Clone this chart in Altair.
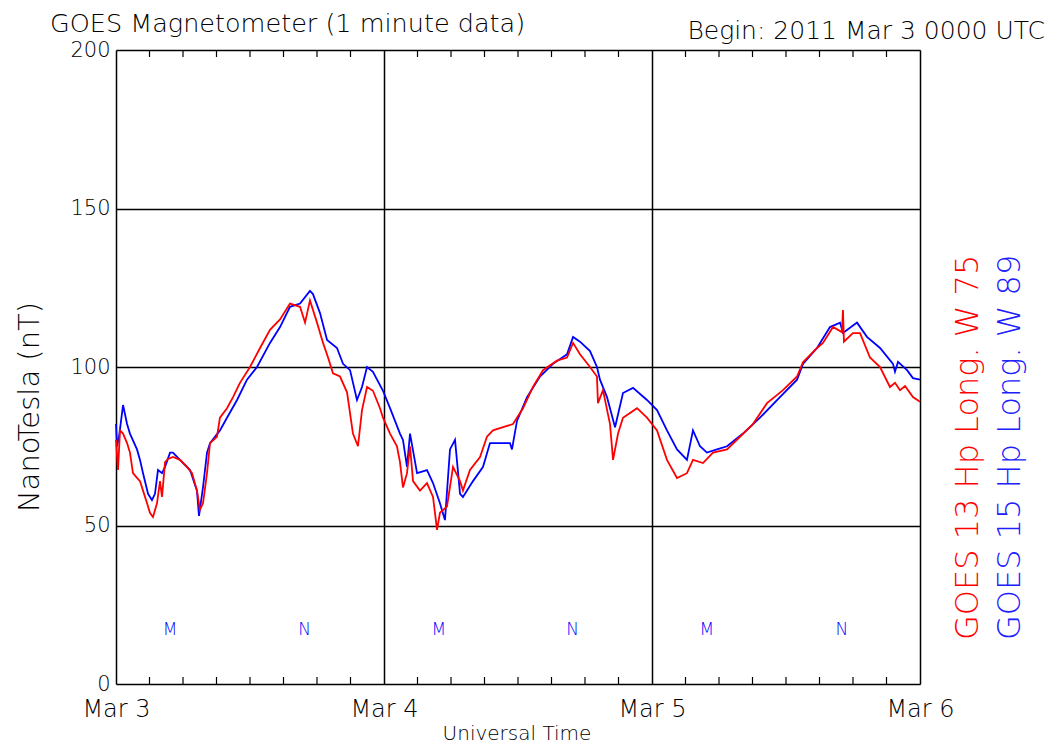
import altair as alt
import pandas as pd

# ---- data (hours since 2011-03-03 00:00 UT, nT) ----
g13_hours = [0.00, 0.18, 0.36, 0.63, 0.99, 1.25, 1.52, 1.88, 2.15, 2.42, 2.78, 3.04, 3.31, 3.67, 3.94,
             4.12, 4.39, 4.66, 5.10, 5.73, 6.36, 6.81, 7.25, 7.52, 7.79, 8.15, 8.42, 9.04, 9.31, 9.94,
             10.48, 11.10, 12.00, 12.90, 13.79, 14.69, 15.58, 16.48, 16.93, 17.37, 18.00, 18.54, 18.99,
             19.43, 20.06, 20.69, 21.22, 21.67, 22.03, 22.48, 23.01, 23.64, 23.91, 24.54, 25.16, 25.43,
             25.70, 26.06, 26.33, 26.60, 27.22, 27.85, 28.39, 28.75, 29.01, 29.64, 30.18, 30.81, 31.07,
             31.70, 32.60, 33.22, 33.76, 34.66, 35.55, 36.45, 37.34, 38.24, 39.49, 40.39, 40.93, 41.55,
             42.45, 43.07, 43.16, 43.61, 44.24, 44.51, 44.96, 45.40, 46.66, 47.55, 48.45, 49.34, 50.24,
             51.13, 51.67, 52.57, 53.46, 54.72, 55.88, 57.04, 58.30, 59.73, 60.99, 61.52, 62.78, 63.31,
             64.21, 65.01, 65.10, 65.19, 65.99, 66.63, 67.52, 68.42, 69.31, 69.76, 70.21, 70.66, 71.37,
             72.00]
g13_nt = [77, 67.5, 80, 79, 76, 73, 66.5, 65, 64, 61, 57, 54, 52.7, 57, 64,
          59, 70, 71, 71.6, 70.7, 68.5, 66.5, 61, 55, 57, 66.5, 76, 78, 84, 87,
          90.5, 95, 100, 106, 111.7, 115, 120, 119, 114, 121, 114, 107.6, 103,
          98, 97, 92, 79, 75, 86.4, 93.7, 92.5, 87, 84, 79, 75, 70,
          62, 66.5, 75, 64, 61, 63.4, 59, 48.6, 54, 56, 68.5, 64, 61,
          67.5, 71.6, 78, 80, 81, 82, 87, 93.7, 99, 102, 103, 107.6, 104,
          100, 97, 88.6, 92.7, 82, 70.7, 79, 84, 87, 84, 80, 70.7, 65,
          66.5, 70.7, 69.7, 73, 74, 78, 82, 88.6, 92.7, 97, 101.5, 106, 107.6,
          112.6, 111, 118, 108, 110.7, 110.7, 103, 100, 93.7, 95, 92.7, 94, 90.5,
          89]

g15_hours = [0.00, 0.09, 0.27, 0.63, 0.99, 1.25, 1.88, 2.15, 2.42, 2.87, 3.22, 3.49, 3.76, 4.12, 4.39,
             4.84, 5.10, 5.73, 6.63, 7.25, 7.43, 7.79, 8.15, 8.42, 9.31, 9.94, 10.84, 11.73, 12.63,
             13.79, 14.69, 15.58, 16.48, 17.37, 17.64, 18.27, 18.90, 19.79, 20.33, 20.96, 21.58, 22.03,
             22.48, 23.01, 23.91, 24.54, 25.43, 25.70, 26.06, 26.33, 26.96, 27.85, 28.39, 29.01, 29.46,
             29.91, 30.36, 30.81, 31.07, 31.97, 32.87, 33.49, 34.39, 35.28, 35.46, 35.91, 36.81, 37.97,
             39.13, 40.39, 40.93, 41.55, 42.45, 43.07, 43.34, 43.97, 44.69, 45.40, 46.30, 47.55, 48.45,
             49.34, 50.24, 51.13, 51.67, 52.30, 52.92, 53.82, 54.72, 56.15, 57.67, 59.46, 60.99, 61.52,
             62.78, 63.94, 64.84, 65.10, 66.36, 67.25, 68.42, 69.58, 69.76, 70.03, 70.84, 71.37, 72.00]
g15_nt = [82, 75, 78, 88, 82, 79, 74, 70.7, 66.5, 60, 58, 60, 67.5, 66.5, 68.5,
          73, 73, 70.7, 67.5, 61, 53, 62, 73, 76, 80, 84, 89.6, 96, 100,
          107.6, 112.6, 119, 120, 124, 123, 117, 108.5, 106, 101, 99, 89.6, 93.7,
          100, 98.5, 92.5, 87, 79, 77, 68.5, 79, 66.5, 67.5, 63.4, 57, 51.7,
          74, 77, 60, 59, 64, 68.5, 76, 76, 76, 74, 83, 90.5, 97,
          101, 104, 109.5, 108, 105, 100, 96, 90.5, 81, 91.8, 93.4, 89.6, 86.4,
          80, 74, 70.7, 80, 75, 73, 74, 75, 79, 84, 90.5, 96, 101,
          106, 112.6, 114, 110.7, 114, 109.5, 106, 101, 98.5, 101.6, 99, 96.5, 96]

mn_hours = [4.84, 16.9, 28.9, 40.9, 52.9, 65.0]
mn_labels = ["M", "N", "M", "N", "M", "N"]
mn_level = 17

day_ticks = [0, 24, 48, 72]
minor_ticks = [3, 6, 9, 12, 15, 18, 21, 27, 30, 33, 36, 39, 42, 45, 51, 54, 57, 60, 63, 66, 69]
y_ticks = [0, 50, 100, 150, 200]

FONT = "DejaVu Sans"
FW = 300
W, H = 804, 634

df = pd.concat([
    pd.DataFrame({"hour": g15_hours, "nt": g15_nt, "sat": "GOES 15"}),
    pd.DataFrame({"hour": g13_hours, "nt": g13_nt, "sat": "GOES 13"}),
], ignore_index=True)
df["order"] = range(len(df))

xscale = alt.Scale(domain=[0, 72], nice=False, zero=False)
yscale = alt.Scale(domain=[0, 200], nice=False, zero=False)

base = alt.Chart(df)

lines = base.mark_line(strokeWidth=1.8, interpolate="linear").encode(
    x=alt.X("hour:Q", scale=xscale,
            axis=alt.Axis(values=day_ticks, labelExpr="'Mar ' + (3 + datum.value / 24)",
                          title=None, ticks=False, domain=False, grid=True,
                          gridColor="black", gridWidth=1.5, gridOpacity=1,
                          labelFont=FONT, labelFontSize=24, labelFontWeight=FW, labelColor="black",
                          labelPadding=13, labelFlush=False)),
    y=alt.Y("nt:Q", scale=yscale,
            axis=alt.Axis(values=y_ticks, title=None, ticks=False, domain=False, grid=True,
                          gridColor="black", gridWidth=1.5, gridOpacity=1,
                          labelFont=FONT, labelFontSize=21, labelFontWeight=FW, labelColor="black",
                          labelPadding=6, labelFlush=False)),
    color=alt.Color("sat:N", scale=alt.Scale(domain=["GOES 13", "GOES 15"],
                                             range=["#ff0000", "#0000ff"]), legend=None),
    detail="sat:N",
    order="order:Q",
)

ticks_df = pd.DataFrame({"hour": minor_ticks})
bottom_ticks = alt.Chart(ticks_df).mark_rule(color="black", strokeWidth=1.2).encode(
    x=alt.X("hour:Q", scale=xscale), y=alt.value(H), y2=alt.value(H - 7))
top_ticks = alt.Chart(ticks_df).mark_rule(color="black", strokeWidth=1.2).encode(
    x=alt.X("hour:Q", scale=xscale), y=alt.value(0), y2=alt.value(7))

mn_df = pd.DataFrame({"hour": mn_hours, "lab": mn_labels, "lvl": [mn_level] * len(mn_hours)})
mn = alt.Chart(mn_df).mark_text(font=FONT, fontSize=17, fontWeight=FW, color="#0000ff").encode(
    x=alt.X("hour:Q", scale=xscale), y=alt.Y("lvl:Q", scale=yscale), text="lab:N")

def label(txt, x, y, size, color="black", align="left", angle=0, baseline="alphabetic"):
    return alt.Chart(pd.DataFrame({"t": [txt]})).mark_text(
        font=FONT, fontSize=size, fontWeight=FW, color=color, align=align, angle=angle,
        baseline=baseline
    ).encode(x=alt.value(x), y=alt.value(y), text="t:N")

title_l = label("GOES Magnetometer (1 minute data)", -66, -18, 25.5)
title_r = label("Begin:  2011 Mar 3 0000 UTC", 929, -11, 25, align="right")
xtitle = label("Universal Time", 401, 690, 20, align="center")
ytitle = label("NanoTesla (nT)", -86, 357, 29, align="center", angle=270, baseline="middle")
leg13 = label("GOES 13 Hp  Long. W 75", 852, 590, 32, color="#ff0000", angle=270, baseline="middle")
leg15 = label("GOES 15 Hp  Long. W 89", 894, 590, 32, color="#2020ff", angle=270, baseline="middle")

chart = alt.layer(
    lines, bottom_ticks, top_ticks, mn, title_l, title_r, xtitle, ytitle, leg13, leg15
).properties(
    width=W, height=H,
    autosize=alt.AutoSizeParams(type="none"),
    padding={"left": 108, "top": 42, "right": 127, "bottom": 60},
).configure_view(
    stroke="black", strokeWidth=2
).configure(background="white")

chart.save("out.html", embed_options={"renderer": "svg", "actions": False})
